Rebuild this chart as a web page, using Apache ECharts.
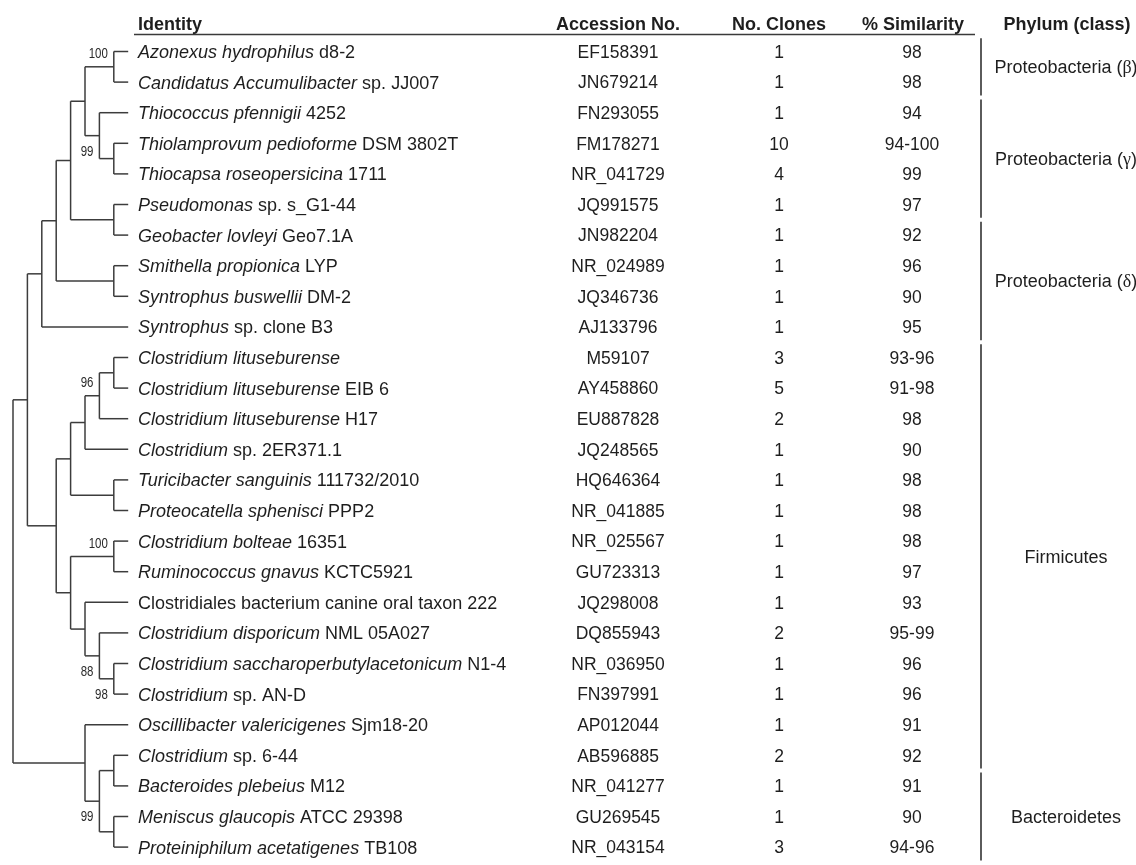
<!DOCTYPE html>
<html>
<head>
<meta charset="utf-8">
<script src="https://cdn.jsdelivr.net/npm/echarts@6/dist/echarts.min.js"></script>
<style>
  html, body { margin: 0; padding: 0; background: #ffffff; }
  #chart { width: 1136px; height: 865px; }
</style>
</head>
<body>
<div id="chart"></div>
<script>
// ---- Table content, one entry per row (top to bottom) ----
const speciesNames = [
  'Azonexus hydrophilus', 'Candidatus Accumulibacter', 'Thiococcus pfennigii',
  'Thiolamprovum pedioforme', 'Thiocapsa roseopersicina', 'Pseudomonas',
  'Geobacter lovleyi', 'Smithella propionica', 'Syntrophus buswellii', 'Syntrophus',
  'Clostridium lituseburense', 'Clostridium lituseburense', 'Clostridium lituseburense',
  'Clostridium', 'Turicibacter sanguinis', 'Proteocatella sphenisci', 'Clostridium bolteae',
  'Ruminococcus gnavus', '', 'Clostridium disporicum',
  'Clostridium saccharoperbutylacetonicum', 'Clostridium', 'Oscillibacter valericigenes',
  'Clostridium', 'Bacteroides plebeius', 'Meniscus glaucopis', 'Proteiniphilum acetatigenes'
];
const strainNames = [
  'd8-2', 'sp. JJ007', '4252', 'DSM 3802T', '1711', 'sp. s_G1-44', 'Geo7.1A', 'LYP', 'DM-2',
  'sp. clone B3', '', 'EIB 6', 'H17', 'sp. 2ER371.1', '111732/2010', 'PPP2', '16351',
  'KCTC5921', 'Clostridiales bacterium canine oral taxon 222', 'NML 05A027', 'N1-4',
  'sp. AN-D', 'Sjm18-20', 'sp. 6-44', 'M12', 'ATCC 29398', 'TB108'
];
const accessionNumbers = [
  'EF158391', 'JN679214', 'FN293055', 'FM178271', 'NR_041729', 'JQ991575', 'JN982204',
  'NR_024989', 'JQ346736', 'AJ133796', 'M59107', 'AY458860', 'EU887828', 'JQ248565',
  'HQ646364', 'NR_041885', 'NR_025567', 'GU723313', 'JQ298008', 'DQ855943', 'NR_036950',
  'FN397991', 'AP012044', 'AB596885', 'NR_041277', 'GU269545', 'NR_043154'
];
const cloneCounts = [1, 1, 1, 10, 4, 1, 1, 1, 1, 1, 3, 5, 2, 1, 1, 1, 1, 1, 1, 2, 1, 1, 1, 2, 1, 1, 3];
const similarity = [
  '98', '98', '94', '94-100', '99', '97', '92', '96', '90', '95', '93-96', '91-98', '98', '90',
  '98', '98', '98', '97', '93', '95-99', '96', '96', '91', '92', '91', '90', '94-96'
];

// ---- Phylum (class) groups: label, first row, last row ----
const phylumLabels = ['Proteobacteria ({g|β})', 'Proteobacteria ({g|γ})', 'Proteobacteria ({g|δ})', 'Firmicutes', 'Bacteroidetes'];
const phylumFirstRow = [0, 2, 6, 10, 24];
const phylumLastRow = [1, 5, 9, 23, 26];

// ---- Column headers ----
const headerLabels = ['Identity', 'Accession No.', 'No. Clones', '% Similarity', 'Phylum (class)'];

// ---- Tree topology (leaves are row indices, numbers after ")" are bootstrap values) ----
const treeNewick = '(((((((0,1)100,(2,(3,4))99),(5,6)),(7,8)),9),(((((10,11),12)96,13),(14,15)),((16,17)100,(18,(19,(20,21)98)88)))),(22,((23,24),(25,26))99))';
// placement of each bootstrap value relative to its node, in the order they appear
const bootstrapSide = ['above', 'below', 'above', 'above', 'below', 'below', 'below'];

// ---- Layout ----
const FONT = '"Liberation Sans", Arial, Helvetica, sans-serif';
const TEXT_COLOR = '#1e1e1e';
const LINE_COLOR = '#3c3c3c';
const ROW_TOP = 36.2;
const ROW_HEIGHT = 30.6;
const NROWS = speciesNames.length;
const COL_X = { identity: 138, accession: 618, clones: 779, similarity: 912, phylumLine: 981, phylum: 1066 };

// Parse the Newick string into nested nodes
function parseNewick(s) {
  let i = 0;
  let supportIdx = 0;
  function readNumber() {
    let t = '';
    while (i < s.length && /[0-9]/.test(s[i])) t += s[i++];
    return t;
  }
  function node() {
    if (s[i] === '(') {
      i++;
      const children = [node()];
      while (s[i] === ',') { i++; children.push(node()); }
      i++; // ')'
      const support = readNumber();
      const n = { children, support };
      if (support) n.side = bootstrapSide[supportIdx++];
      return n;
    }
    return { leaf: +readNumber() };
  }
  return node();
}

// Cladogram layout: leaves aligned, internal nodes placed by subtree height
function layoutTree(n) {
  if (n.children) {
    n.children.forEach(layoutTree);
    n.height = 1 + Math.max(...n.children.map(c => c.height));
    n.row = (n.children[0].row + n.children[n.children.length - 1].row) / 2;
  } else {
    n.height = 0;
    n.row = n.leaf;
  }
}

const root = parseNewick(treeNewick);
layoutTree(root);
const treeDepth = root.height;

const treeData = [];
const treeLabels = [];
const treeSides = [];
(function collect(n, parentX) {
  const x = treeDepth - n.height;
  const kids = n.children || [];
  treeData.push([
    x, n.row,
    parentX === null ? x : parentX,
    kids.length ? kids[0].row : n.row,
    kids.length ? kids[kids.length - 1].row : n.row
  ]);
  treeLabels.push(n.support || '');
  treeSides.push(n.side || '');
  kids.forEach(c => collect(c, x));
})(root, null);

const rowData = speciesNames.map((_, i) => [0, i]);
const phylumData = phylumLabels.map((_, i) => [0, phylumFirstRow[i], phylumLastRow[i]]);

const chart = echarts.init(document.getElementById('chart'), null, { renderer: 'canvas' });

const gridHeight = ROW_HEIGHT * NROWS;
const hiddenAxis = { show: false, axisLine: { show: false }, splitLine: { show: false }, axisTick: { show: false }, axisLabel: { show: false } };

function renderTree(params, api) {
  const i = params.dataIndex;
  const x = api.value(0), row = api.value(1), px = api.value(2);
  const r0 = api.value(3), r1 = api.value(4);
  const p = api.coord([x, row]);
  const pp = api.coord([px, row]);
  const style = { stroke: LINE_COLOR, lineWidth: 1.5, fill: null };
  const children = [];
  if (pp[0] !== p[0]) {
    children.push({ type: 'line', shape: { x1: pp[0], y1: p[1], x2: p[0], y2: p[1] }, style });
  }
  if (r0 !== r1) {
    const a = api.coord([x, r0]), b = api.coord([x, r1]);
    children.push({ type: 'line', shape: { x1: p[0], y1: a[1], x2: p[0], y2: b[1] }, style });
  }
  const lab = treeLabels[i];
  if (lab) {
    const above = treeSides[i] === 'above';
    children.push({
      type: 'text',
      x: p[0] - 6,
      y: p[1] + (above ? -13 : 16),
      scaleX: 0.74,
      style: {
        text: lab, x: 0, y: 0, align: 'right', verticalAlign: 'middle',
        fontSize: 15.5, fontFamily: FONT, fill: '#2a2a2a'
      }
    });
  }
  return { type: 'group', children };
}

function renderRows(params, api) {
  const i = params.dataIndex;
  const row = api.value(1);
  const y = api.coord([0, row])[1] + 1.5;
  const X = k => api.coord([COL_X[k], row])[0];
  const base = { fontSize: 18, fontFamily: FONT, fill: TEXT_COLOR, verticalAlign: 'middle' };
  const sp = speciesNames[i], st = strainNames[i];
  let ident;
  if (sp && st) ident = '{i|' + sp + '} ' + st;
  else if (sp) ident = '{i|' + sp + '}';
  else ident = st;
  return {
    type: 'group',
    children: [
      { type: 'text', style: Object.assign({}, base, {
          text: ident, x: X('identity'), y, align: 'left',
          rich: { i: { fontSize: 18, fontFamily: FONT, fontStyle: 'italic', fill: TEXT_COLOR } }
        }) },
      { type: 'text', style: Object.assign({}, base, { text: accessionNumbers[i], x: X('accession'), y, align: 'center', fontSize: 17.5 }) },
      { type: 'text', style: Object.assign({}, base, { text: String(cloneCounts[i]), x: X('clones'), y, align: 'center', fontSize: 17.5 }) },
      { type: 'text', style: Object.assign({}, base, { text: similarity[i], x: X('similarity'), y, align: 'center', fontSize: 17.5 }) }
    ]
  };
}

function renderPhylum(params, api) {
  const i = params.dataIndex;
  const r0 = api.value(1), r1 = api.value(2);
  const top = api.coord([COL_X.phylumLine, r0 - 0.5]);
  const bot = api.coord([COL_X.phylumLine, r1 + 0.5]);
  const mid = api.coord([COL_X.phylum, (r0 + r1) / 2]);
  return {
    type: 'group',
    children: [
      { type: 'line', shape: { x1: top[0], y1: top[1] + 2, x2: bot[0], y2: bot[1] - 2 },
        style: { stroke: '#4a4a4a', lineWidth: 1.8 } },
      { type: 'text', style: {
          text: phylumLabels[i], x: mid[0], y: mid[1] + 1.5, align: 'center', verticalAlign: 'middle',
          fontSize: 18, fontFamily: FONT, fill: TEXT_COLOR,
          rich: { g: { fontSize: 18, fontFamily: '"Liberation Serif", "DejaVu Serif", serif', fill: TEXT_COLOR } }
        } }
    ]
  };
}

const headerY = 25;
const headerX = [COL_X.identity, COL_X.accession, COL_X.clones, 913, 1067];
const headerAlign = ['left', 'center', 'center', 'center', 'center'];

chart.setOption({
  animation: false,
  backgroundColor: '#ffffff',
  grid: [
    { left: 13, width: 14.4 * treeDepth, top: ROW_TOP, height: gridHeight },
    { left: 0, right: 0, top: ROW_TOP, height: gridHeight }
  ],
  xAxis: [
    Object.assign({ type: 'value', gridIndex: 0, min: 0, max: treeDepth }, hiddenAxis),
    Object.assign({ type: 'value', gridIndex: 1, min: 0, max: 1136 }, hiddenAxis)
  ],
  yAxis: [
    Object.assign({ type: 'value', gridIndex: 0, min: -0.5, max: NROWS - 0.5, inverse: true }, hiddenAxis),
    Object.assign({ type: 'value', gridIndex: 1, min: -0.5, max: NROWS - 0.5, inverse: true }, hiddenAxis)
  ],
  graphic: [
    ...headerLabels.map((h, k) => ({
      type: 'text', silent: true,
      style: {
        text: h, x: headerX[k], y: headerY, align: headerAlign[k], verticalAlign: 'middle',
        fontSize: 18, fontWeight: 'bold', fontFamily: FONT, fill: TEXT_COLOR
      }
    })),
    { type: 'line', silent: true, shape: { x1: 134, y1: 34.5, x2: 975, y2: 34.5 },
      style: { stroke: '#3a3a3a', lineWidth: 1.5 } }
  ],
  series: [
    { type: 'custom', name: 'tree', xAxisIndex: 0, yAxisIndex: 0, renderItem: renderTree,
      data: treeData, encode: { x: 0, y: 1 }, silent: true, clip: false },
    { type: 'custom', name: 'rows', xAxisIndex: 1, yAxisIndex: 1, renderItem: renderRows,
      data: rowData, encode: { x: 0, y: 1 }, silent: true, clip: false },
    { type: 'custom', name: 'phylum', xAxisIndex: 1, yAxisIndex: 1, renderItem: renderPhylum,
      data: phylumData, encode: { x: 0, y: 1 }, silent: true, clip: false }
  ]
});
</script>
</body>
</html>
